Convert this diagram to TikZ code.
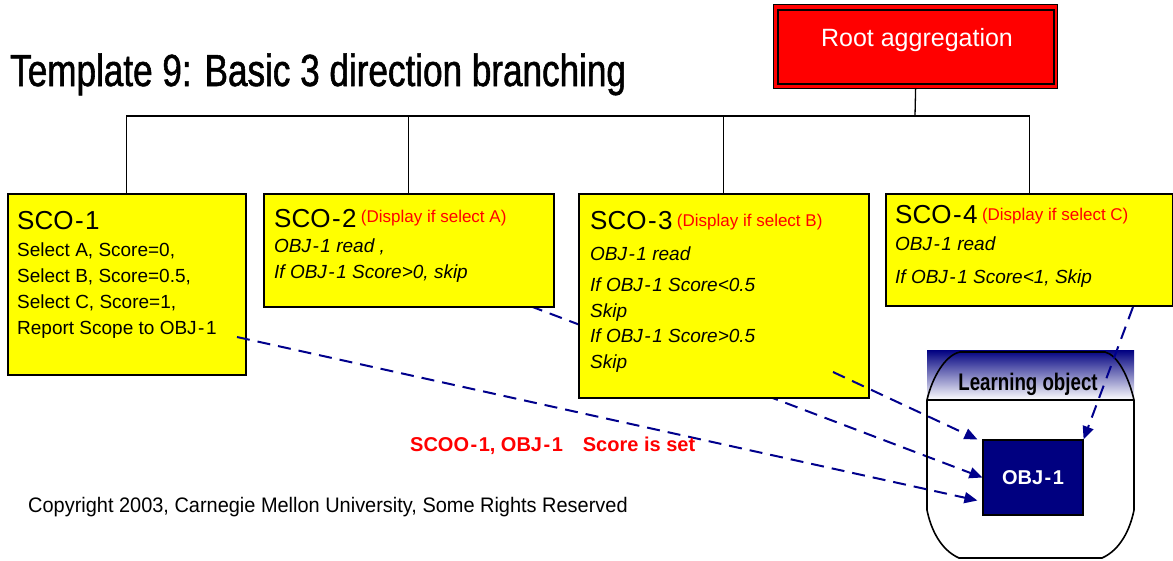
\documentclass[tikz,border=0pt]{standalone}
\usepackage{fontspec}
\setmainfont{Liberation Sans}
\newfontfamily\narrowfont[FakeStretch=0.78]{Liberation Sans}
\newfontfamily\titlefont[FakeStretch=0.78,FakeBold=1.2]{Liberation Sans}
\newfontfamily\copyfont[FakeStretch=0.95]{Liberation Sans}
\usepackage{xcolor}
\usetikzlibrary{arrows.meta}
\usetikzlibrary{positioning}
\usetikzlibrary{backgrounds}

\definecolor{scoyellow}{RGB}{255,255,0}
\definecolor{rootred}{RGB}{255,0,0}
\definecolor{objnavy}{RGB}{0,0,128}
\definecolor{linkblue}{RGB}{0,0,140}
\newcommand{\sphy}{\kern1.5pt-\kern1.5pt}
\newcommand{\shown}[2]{\raisebox{#1}{\textcolor{red}{\fontsize{17}{20}\selectfont #2}}}

\tikzset{
  scobox/.style={draw=black, line width=1.6pt, fill=scoyellow, anchor=north west, inner sep=0pt},
  scotitle/.style={anchor=base west, inner sep=0pt, font=\fontsize{26}{30}\selectfont},
  scobody/.style={anchor=base west, inner sep=0pt, align=left, font=\fontsize{19}{26}\selectfont},
  link/.style={draw=linkblue, line width=2pt, dash pattern=on 13pt off 8pt,
    -{Triangle[length=13pt,width=11pt]}},
  tree/.style={draw=black, line width=1.3pt},
}

\begin{document}
\begin{tikzpicture}[x=1pt, y=-1pt]
  \useasboundingbox (0,0) rectangle (1173,560);

  % heading
  \node [anchor=base west, inner sep=0pt, font=\titlefont\fontsize{45}{50}\selectfont]
  (title) at (10,86) {Template 9: Basic 3 direction branching};

  % root of the tree
  \node [draw=black, line width=1.2pt, fill=rootred, anchor=north west, inner sep=0pt,
  minimum width=284, minimum height=84] (root) at (773,4) {};
  \draw [line width=1.8pt] ([shift={(5,6)}]root.north west) rectangle ([shift={(-4,-5)}]root.south east);
  \node [text=white, font=\fontsize{25}{30}\selectfont] (roottxt) at (917,40) {Root aggregation};

  % the four SCOs
  \node [scobox, minimum width=238, minimum height=181] (sco1) at (7,193) {};
  \node [scobox, minimum width=290, minimum height=113] (sco2) at (263,193) {};
  \node [scobox, minimum width=290, minimum height=204] (sco3) at (578,193) {};
  \node [scobox, minimum width=287, minimum height=112] (sco4) at (885,193) {};

  \coordinate (fork) at (915,116);
  \draw [tree] (root.south) -- (fork);
  \draw [tree] (sco1.north) |- (fork) -| (sco4.north);
  \draw [tree] (sco2.north) -- (sco2.north |- fork);
  \draw [tree] (sco3.north) -- (sco3.north |- fork);

  % text of each SCO (body nodes sit on their last line)
  \node [scotitle] (sco1title) at (17,229) {SCO\sphy1};
  \node [scobody] (sco1body) at (17,334) {Select A, Score=0,\\Select B, Score=0.5,\\
    Select C, Score=1,\\Report Scope to OBJ\sphy1};

  \node [scotitle] (sco2title) at (274,227) {SCO\sphy2\,\shown{5pt}{(Display if select A)}};
  \node [scobody, font=\itshape\fontsize{19}{26}\selectfont] (sco2body) at (274,278)
  {OBJ\sphy1 read ,\\If OBJ\sphy1 Score>0, skip};

  \node [scotitle] (sco3title) at (590,229) {SCO\sphy3\,\shown{3pt}{(Display if select B)}};
  \node [scobody, font=\itshape\fontsize{19}{25.5}\selectfont] (sco3body) at (590,368)
  {OBJ\sphy1 read\\[6pt]If OBJ\sphy1 Score<0.5\\Skip\\If OBJ\sphy1 Score>0.5\\Skip};

  \node [scotitle] (sco4title) at (895,223) {SCO\sphy4\,\shown{3pt}{(Display if select C)}};
  \node [scobody, font=\itshape\fontsize{19}{26}\selectfont] (sco4body) at (895,283)
  {OBJ\sphy1 read\\[7pt]If OBJ\sphy1 Score<1, Skip};

  % learning object
  \shade [top color=objnavy, middle color=objnavy!40, bottom color=white] (927,350) rectangle (1134,400);
  \draw [line width=1.6pt] (960,352) -- (1105,352) .. controls (1118,355) and (1129,378) .. (1134,400)
  -- (1134,510) .. controls (1130,530) and (1120,550) .. (1102,558) -- (959,558)
  .. controls (941,550) and (931,530) .. (927,510) -- (927,400)
  .. controls (932,378) and (945,355) .. (960,352) -- cycle;
  \draw [line width=1.6pt] (927,400) -- (1134,400);
  \node [font=\narrowfont\bfseries\fontsize{24}{28}\selectfont] (lotitle) at (1028,384) {Learning object};
  \node [draw=black, line width=1.2pt, fill=objnavy, minimum width=100, minimum height=75,
  text=white, font=\bfseries\fontsize{20}{24}\selectfont] (obj) at (1033,477.5) {OBJ\sphy1};

  % scores passed to the objective
  \coordinate (sco1out) at (237,337);
  \coordinate (sco2out) at (530,306);
  \coordinate (sco3out) at (833,372);
  \coordinate (sco4out) at (1133,307);
  \begin{scope}[on background layer]
    \draw [link] (sco2out) -- (obj.west);
  \end{scope}
  \draw [link] (sco1out) -- ([shift={(-5,23)}]obj.west);
  \draw [link] (sco3out) -- ([shift={(-5,0)}]obj.north west);
  \draw [link] (sco4out) -- (obj.north east);

  \node [anchor=base west, inner sep=0pt, text=red, font=\bfseries\fontsize{20}{24}\selectfont]
  (scoreset) at (410,451) {SCOO\sphy1, OBJ\sphy1\hspace{1em}Score is set};

  \node [anchor=base west, inner sep=0pt, font=\copyfont\fontsize{21}{25}\selectfont]
  (copyright) at (28,512) {Copyright 2003, Carnegie Mellon University, Some Rights Reserved};
\end{tikzpicture}
\end{document}
